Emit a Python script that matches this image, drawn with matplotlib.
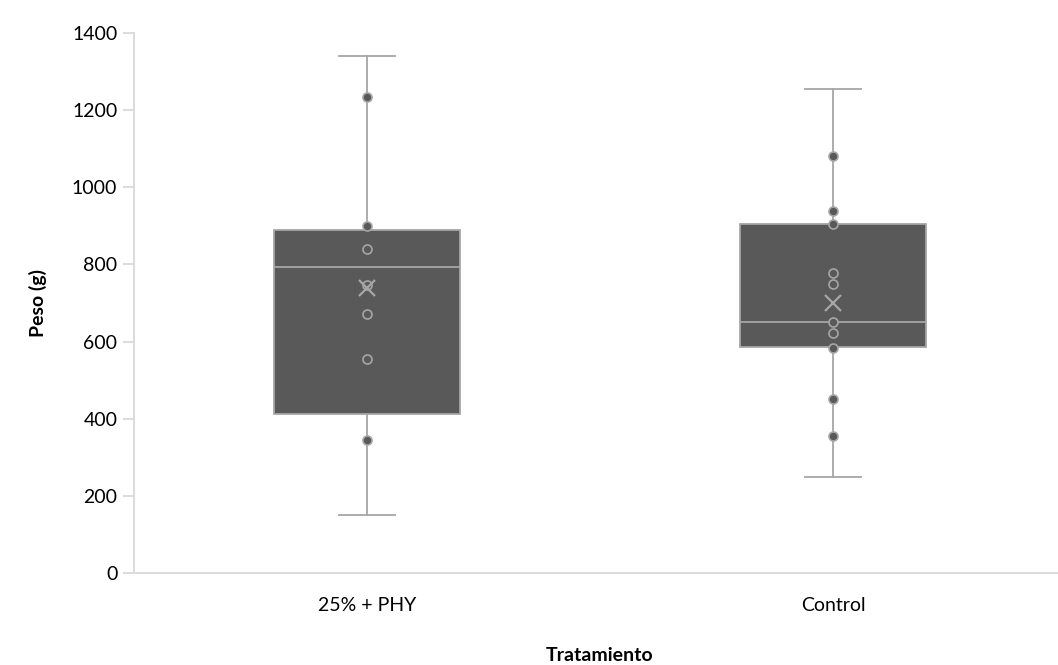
import matplotlib.pyplot as plt

plt.rcParams['font.family'] = ['Lato', 'DejaVu Sans']

# treatment groups and their box statistics (g)
groups = ["25% + PHY", "Control"]
whisker_low = [150, 250]
q1 = [412, 587]
medians = [794, 651]
q3 = [889, 905]
whisker_high = [1340, 1255]
means = [739, 701]

# individual weights shown over each box
points_phy = [1235, 900, 840, 747, 671, 556, 345]
points_control = [1080, 939, 905, 778, 749, 651, 622, 584, 451, 356]

box_color = "#595959"
line_color = "#A6A6A6"
axis_color = "#D9D9D9"

stats = []
for i, name in enumerate(groups):
    stats.append({
        "label": name,
        "whislo": whisker_low[i],
        "q1": q1[i],
        "med": medians[i],
        "q3": q3[i],
        "whishi": whisker_high[i],
        "mean": means[i],
        "fliers": [],
    })

fig = plt.figure(figsize=(10.58, 6.65), dpi=100)
ax = fig.add_axes([134 / 1058, 92 / 665, 932 / 1058, 540 / 665])

ax.bxp(
    stats,
    positions=[1, 2],
    widths=0.40,
    patch_artist=True,
    showmeans=False,
    showfliers=False,
    boxprops=dict(facecolor=box_color, edgecolor=line_color, linewidth=1.3),
    medianprops=dict(color=line_color, linewidth=1.3),
    whiskerprops=dict(color=line_color, linewidth=1.3),
    capprops=dict(color=line_color, linewidth=1.3),
    capwidths=0.12,
    zorder=2,
)

for pos, pts in zip([1, 2], [points_phy, points_control]):
    ax.plot([pos] * len(pts), pts, linestyle="none", marker="o",
            markersize=6.5, markerfacecolor=box_color,
            markeredgecolor=line_color, markeredgewidth=1.2, zorder=3)

ax.plot([1, 2], means, linestyle="none", marker="x", markersize=11,
        markeredgecolor=line_color, markeredgewidth=1.6, zorder=4)

ax.set_xlim(0.5, 2.5)
ax.set_ylim(0, 1400)
ax.set_yticks(range(0, 1401, 200))
ax.set_xticks([1, 2])
ax.set_xticklabels(groups)

for side in ["top", "right"]:
    ax.spines[side].set_visible(False)
for side in ["left", "bottom"]:
    ax.spines[side].set_color(axis_color)
    ax.spines[side].set_linewidth(1.3)

ax.tick_params(axis="y", length=8, color=axis_color, width=1.3,
               labelsize=14, labelcolor="#000000", pad=4)
ax.tick_params(axis="x", length=0, labelsize=14, labelcolor="#000000", pad=17)

ax.set_ylabel("Peso (g)", fontsize=14, fontweight="bold", labelpad=18)
ax.set_xlabel("Tratamiento", fontsize=14, fontweight="bold", labelpad=24)

fig.savefig("out.png", dpi=100)
